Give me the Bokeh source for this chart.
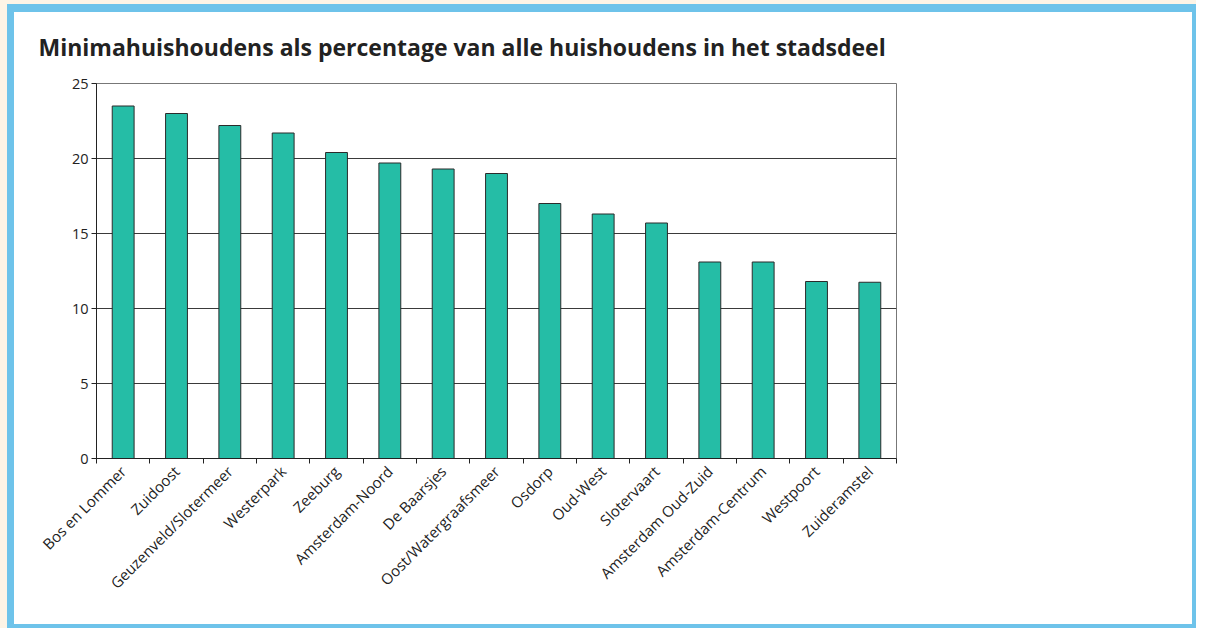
from bokeh.plotting import figure
from bokeh.models import FixedTicker, Range1d, ColumnDataSource
from bokeh.embed import file_html
from bokeh.resources import INLINE
import math

districts = ["Bos en Lommer", "Zuidoost", "Geuzenveld/Slotermeer", "Westerpark", "Zeeburg",
             "Amsterdam-Noord", "De Baarsjes", "Oost/Watergraafsmeer", "Osdorp", "Oud-West",
             "Slotervaart", "Amsterdam Oud-Zuid", "Amsterdam-Centrum", "Westpoort", "Zuideramstel"]
percentages = [23.5, 23.0, 22.2, 21.7, 20.4, 19.7, 19.3, 19.0, 17.0, 16.3, 15.7, 13.1, 13.1, 11.8, 11.75]
y_ticks = [0, 5, 10, 15, 20, 25]

positions = [i + 0.5 for i in range(len(districts))]
src = ColumnDataSource(dict(x=positions, top=percentages, name=districts))

p = figure(frame_width=800, frame_height=375, output_backend="svg", toolbar_location=None,
           x_range=Range1d(0, len(districts)), y_range=Range1d(0, 25),
           min_border_left=82, min_border_right=296, min_border_top=71, min_border_bottom=166)
p.styles = {"border-left": "7px solid #FDF4E6", "border-top": "4px solid #FDF4E6",
            "padding": "8px 4px 4px 7px",
            "box-shadow": "inset 7px 8px 0 0 #6EC3EA, inset -4px -4px 0 0 #6EC3EA",
            "background-color": "white"}

p.vbar(x="x", top="top", width=0.41, source=src, fill_color="#25BDA6",
       line_color="#2b2b2b", line_width=1)

p.title.text = "Minimahuishoudens als percentage van alle huishoudens in het stadsdeel"
p.title.text_font = "Open Sans"
p.title.text_font_style = "bold"
p.title.text_font_size = "23px"
p.title.text_color = "#222222"
p.title.align = "left"
p.title.vertical_align = "top"
p.title.offset = -58
p.title.standoff = 37

p.outline_line_color = "#777777"
p.outline_line_width = 1
p.background_fill_color = "white"
p.border_fill_color = "white"

p.xgrid.grid_line_color = None
p.ygrid.ticker = FixedTicker(ticks=[5, 10, 15, 20])
p.ygrid.grid_line_color = "#3a3a3a"
p.ygrid.grid_line_width = 1

p.yaxis.ticker = FixedTicker(ticks=y_ticks)
p.yaxis.axis_line_color = "#222222"
p.yaxis.major_tick_out = 5
p.yaxis.major_tick_in = 0
p.yaxis.minor_tick_line_color = None
p.yaxis.major_tick_line_color = "#222222"
p.yaxis.major_label_text_font = "Open Sans"
p.yaxis.major_label_text_font_size = "14.5px"
p.yaxis.major_label_text_color = "#222222"
p.yaxis.major_label_standoff = 3

p.xaxis.ticker = FixedTicker(ticks=positions, minor_ticks=list(range(len(districts) + 1)))
p.xaxis.major_label_overrides = {pos: name for pos, name in zip(positions, districts)}
p.xaxis.major_label_orientation = math.pi / 4
p.xaxis.axis_line_color = "#222222"
p.xaxis.major_tick_line_color = None
p.xaxis.major_tick_out = 0
p.xaxis.major_tick_in = 0
p.xaxis.minor_tick_out = 5
p.xaxis.minor_tick_in = 0
p.xaxis.minor_tick_line_color = "#222222"
p.xaxis.major_label_text_font = "Open Sans"
p.xaxis.major_label_text_font_size = "15px"
p.xaxis.major_label_text_color = "#222222"
p.xaxis.major_label_standoff = 5

open("out.html", "w").write(file_html(p, INLINE))
